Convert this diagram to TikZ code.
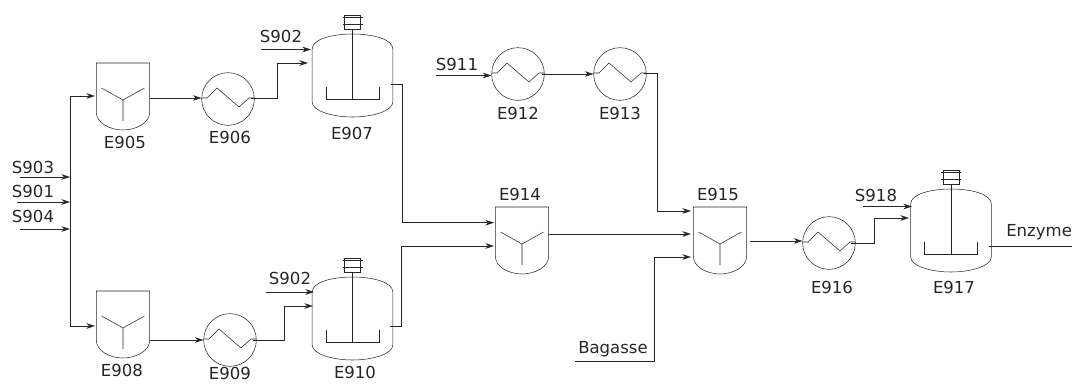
\documentclass[tikz,border=0pt]{standalone}
\usepackage{fontspec}
\setmainfont{DejaVu Sans}
\usetikzlibrary{calc,arrows.meta}
\definecolor{ink}{HTML}{262626}
\tikzset{
  x=0.75pt,y=-0.75pt,
  line width=0.85pt,
  flow/.style={draw=ink,-{Stealth[length=6.5pt,width=4.2pt]}},
  pipe/.style={draw=ink},
  lbl/.style={inner sep=0pt,font=\fontsize{12.4pt}{14pt}\selectfont,text=ink},
  hopbox/.style={rectangle,inner sep=0pt,minimum width=40pt,minimum height=50.25pt},
  tankbox/.style={rectangle,inner sep=0pt,minimum width=60.75pt,minimum height=62.25pt},
  hxbox/.style={circle,draw=ink,inner sep=0pt,minimum size=39.5pt},
}
\newcommand{\hopper}[3]{%
  \node[hopbox] (#1) at (#2,#3+33.5) {};
  \begin{scope}[shift={(#2,#3)}]
    \draw[pipe] (-26.7,0) -- (26.7,0) -- (26.7,49) .. controls (26.7,60) and (13,67) .. (0,67)
      .. controls (-13,67) and (-26.7,60) .. (-26.7,49) -- cycle;
    \draw[pipe] (-21.5,25) -- (0,37) -- (21.5,25) (0,37) -- (0,58);
  \end{scope}}
\newcommand{\hx}[3]{%
  \node[hxbox] (#1) at (#2,#3) {};
  \begin{scope}[shift={(#2,#3)}]
    \draw[pipe] (-26,-1) -- (-21,-1) -- (-11,-11) -- (11,8) -- (21,-1) -- (26,-1);
  \end{scope}}
\newcommand{\tank}[3]{%
  \node[tankbox] (#1) at (#2,#3+41.5) {};
  \begin{scope}[shift={(#2,#3)}]
    \draw[pipe] (-40.3,15) .. controls (-40.3,5) and (-20,0) .. (0,0)
      .. controls (20,0) and (40.3,5) .. (40.3,15) -- (40.3,68)
      .. controls (40.3,77) and (20,83) .. (0,83)
      .. controls (-20,83) and (-40.3,77) .. (-40.3,68) -- cycle;
    \draw[pipe] (0,-5) -- (0,65);
    \draw[pipe] (-26.5,53) -- (-26.5,65) -- (26.5,65) -- (26.5,53);
    \draw[pipe] (-8,-19) rectangle (8,-5);
    \draw[pipe] (-10,-17) -- (10,-17) (-10,-10) -- (10,-10);
  \end{scope}}
\begin{document}
\begin{tikzpicture}
\useasboundingbox (0,0) rectangle (1072,383);
% equipment
\hopper{E905}{123}{63}
\hx{E906}{228}{99}
\tank{E907}{352.5}{34}
\hopper{E908}{123}{291}
\hx{E909}{230}{340}
\tank{E910}{352.5}{277}
\hx{E912}{518}{74}
\hx{E913}{620}{74}
\hopper{E914}{522}{207}
\hopper{E915}{720}{207}
\hx{E916}{829}{243}
\tank{E917}{951}{189}
% equipment labels
\node[lbl] (tE905) at (125,142) {E905};
\node[lbl] (tE906) at (230,137) {E906};
\node[lbl] (tE907) at (352,133) {E907};
\node[lbl] (tE908) at (122,370) {E908};
\node[lbl] (tE909) at (230,373.5) {E909};
\node[lbl] (tE910) at (355,372) {E910};
\node[lbl] (tE912) at (518,113) {E912};
\node[lbl] (tE913) at (620,113) {E913};
\node[lbl] (tE914) at (520,194) {E914};
\node[lbl] (tE915) at (718,194) {E915};
\node[lbl] (tE916) at (832,287) {E916};
\node[lbl] (tE917) at (954,287) {E917};
% stream labels
\node[lbl] (tS903) at (33,167) {S903};
\node[lbl] (tS901) at (33,191) {S901};
\node[lbl] (tS904) at (33,216) {S904};
\node[lbl] (tS902a) at (281,36) {S902};
\node[lbl] (tS902b) at (290,278) {S902};
\node[lbl] (tS911) at (457,64) {S911};
\node[lbl] (tS918) at (876,195) {S918};
\node[lbl] (tBag) at (613,349) {Bagasse};
\node[lbl,anchor=west] (tEnz) at (1006,232) {Enzyme};
% free ends and ports
\coordinate (c903) at (20,177);
\coordinate (c901) at (17,202);
\coordinate (c904) at (20,229);
\coordinate (busT) at (70,96);
\coordinate (busB) at (70,326);
\coordinate (c902a) at (261,49.5);
\coordinate (c902b) at (266,292);
\coordinate (c911) at (436,75.5);
\coordinate (c918) at (863,206.5);
\coordinate (cBag) at (575,361);
\coordinate (cEnz) at (1072,246);
\coordinate (E905i) at (95,96);
\coordinate (E908i) at (95,326);
\coordinate (E905o) at (149.7,98);
\coordinate (E908o) at (149.7,340);
\coordinate (E907i) at (308,63);
\coordinate (E907o) at (391,84);
\coordinate (E910i) at (313,306);
\coordinate (E910o) at (390,326);
\coordinate (E914a) at (494,222.7);
\coordinate (E914b) at (494,246);
\coordinate (E914o) at (548.7,234);
\coordinate (E915a) at (691,211);
\coordinate (E915b) at (691,234);
\coordinate (E915c) at (691,257);
\coordinate (E915o) at (750,241);
\coordinate (E917i) at (909,218);
\coordinate (E917o) at (989,246);
% connectors
\draw[flow] (c903) -- (c903 -| busT);
\draw[flow] (c901) -- (c901 -| busT);
\draw[flow] (c904) -- (c904 -| busT);
\draw[pipe] (busT) -- (busB);
\draw[flow] (busT) -- (E905i);
\draw[flow] (busB) -- (E908i);
\draw[flow] (E905o) -- (E905o -| E906.west);
\draw[flow] ($(E906.east)+(-4,-1)$) -- ++(27,0) |- (E907i);
\draw[flow] (c902a) -- +(50,0);
\draw[flow] (E907o) -- ++(11,0) |- (E914a);
\draw[flow] (E908o) -- (E908o -| E909.west);
\draw[flow] ($(E909.east)+(-4,0)$) -- ++(32,0) |- (E910i);
\draw[flow] (c902b) -- +(48,0);
\draw[flow] (E910o) -- ++(11.5,0) |- (E914b);
\draw[flow] (c911) -- (c911 -| E912.west);
\draw[flow] ($(E912.east)+(-3,0)$) -- (E913.west);
\draw[flow] ($(E913.east)+(-3,-1)$) -- ++(14,0) |- (E915a);
\draw[flow] (E914o) -- (E915b);
\draw[flow] (cBag) -- (cBag -| 654.5,0) |- (E915c);
\draw[flow] (E915o) -- (E915o -| E916.west);
\draw[flow] ($(E916.east)+(-5,0)$) -- ++(24,0) |- (E917i);
\draw[flow] (c918) -- +(49,0);
\draw[pipe] (E917o) -- (cEnz);
\end{tikzpicture}
\end{document}
